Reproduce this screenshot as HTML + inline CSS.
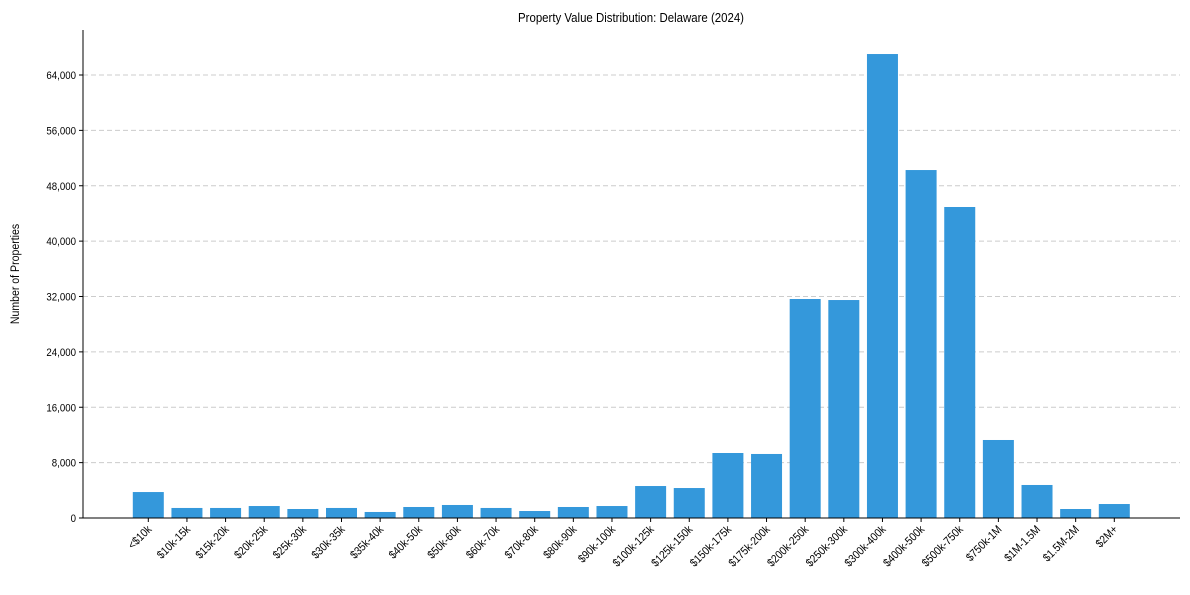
<!DOCTYPE html>
<html><head><meta charset="utf-8"><style>
body{margin:0;background:#fff;font-family:"Liberation Sans",Arial,sans-serif;}
svg text{font-family:"Liberation Sans",Arial,sans-serif;fill:#000;}
</style></head><body>
<svg id="chart" width="1190" height="590" xmlns="http://www.w3.org/2000/svg">
<text transform="translate(631,22) scale(0.88,1)" text-anchor="middle" font-size="13">Property Value Distribution: Delaware (2024)</text>
<text transform="translate(19,274) rotate(-90) scale(0.88,1)" text-anchor="middle" font-size="12">Number of Properties</text>
<g id="grid"></g><g id="bars"></g><g id="axes"></g>
</svg>
<script>
const categories=["<$10k","$10k-15k","$15k-20k","$20k-25k","$25k-30k","$30k-35k","$35k-40k","$40k-50k","$50k-60k","$60k-70k","$70k-80k","$80k-90k","$90k-100k","$100k-125k","$125k-150k","$150k-175k","$175k-200k","$200k-250k","$250k-300k","$300k-400k","$400k-500k","$500k-750k","$750k-1M","$1M-1.5M","$1.5M-2M","$2M+"];
const values=[3750,1450,1450,1730,1300,1450,870,1590,1880,1450,1010,1590,1730,4620,4330,9390,9250,31640,31490,67030,50270,44930,11270,4770,1300,2020];
const yTicks=[0,8000,16000,24000,32000,40000,48000,56000,64000];
const tickLabels=["0","8,000","16,000","24,000","32,000","40,000","48,000","56,000","64,000"];
const NS="http://www.w3.org/2000/svg";
const x0=83,x1=1180,yBase=518,yTop=30;
const yScale=v=>yBase-v*(443/64000);
const step=38.64,first=148.3;
const xScale=i=>first+i*step;
const bw=31;
function mk(t,a,p){const e=document.createElementNS(NS,t);for(const k in a)e.setAttribute(k,a[k]);p.appendChild(e);return e;}
const grid=document.getElementById('grid'),bars=document.getElementById('bars'),axes=document.getElementById('axes');
yTicks.forEach((t,i)=>{
  const y=yScale(t);
  if(t>0){const g=mk('line',{x1:x0,x2:x1,y1:y,y2:y,stroke:'#cccccc','stroke-dasharray':'5,3','stroke-width':1},grid);
  
  }
  const tk=mk('line',{x1:x0-4,x2:x0,y1:y,y2:y,stroke:'#000'},axes);
  
  
  const tx=mk('text',{transform:`translate(${x0-7},${y+4}) scale(0.88,1)`,'text-anchor':'end','font-size':11},axes);
  tx.textContent=tickLabels[i];
  
  
});
categories.forEach((c,i)=>{
  const cx=xScale(i),y=yScale(values[i]);
  const r=mk('rect',{x:cx-bw/2,y:y,width:bw,height:yBase-y,fill:'#3498db'},bars);
  
  
  const tk=mk('line',{x1:cx,x2:cx,y1:yBase,y2:yBase+4,stroke:'#000'},axes);
  
  
  const tx=mk('text',{transform:`translate(${cx+4},${yBase+12}) rotate(-45) scale(0.88,1)`,'text-anchor':'end','font-size':11.5},axes);
  tx.textContent=c;
  
  
});
const ya=mk('line',{x1:x0,x2:x0,y1:yTop,y2:yBase,stroke:'#000'},axes);


const xa=mk('line',{x1:x0,x2:x1,y1:yBase,y2:yBase,stroke:'#000'},axes);


</script>
</body></html>
